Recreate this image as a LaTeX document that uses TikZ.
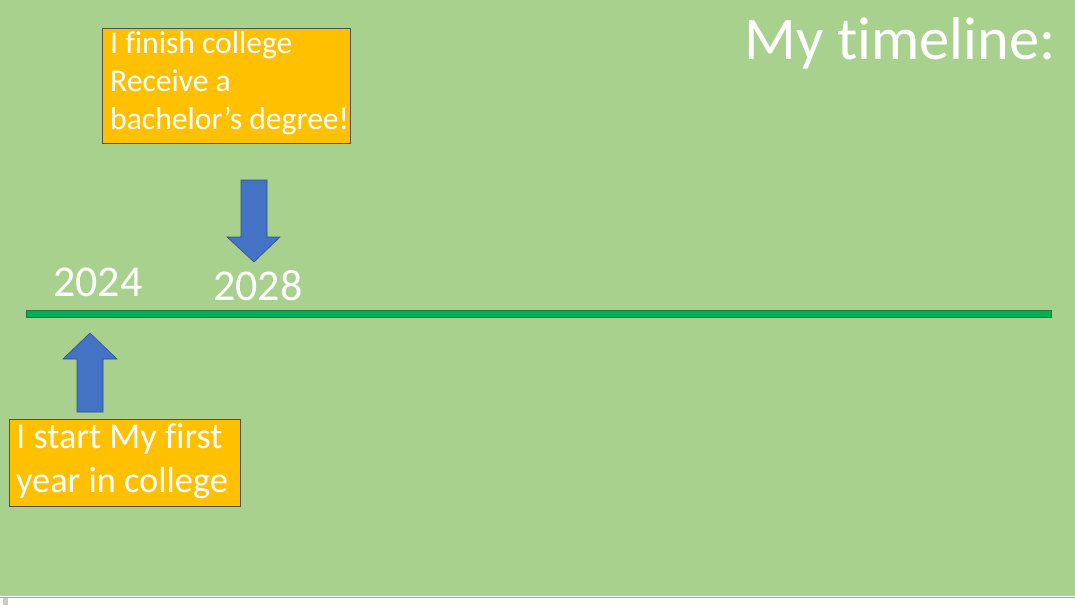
\documentclass[tikz,border=0pt]{standalone}
\usepackage{fontspec}
\setmainfont[Ligatures=NoCommon]{Carlito}
\definecolor{bg}{HTML}{A9D18E}
\definecolor{tl}{HTML}{00B050}
\definecolor{tlb}{HTML}{1F7A45}
\definecolor{ar}{HTML}{4472C4}
\definecolor{arb}{HTML}{2F528F}
\definecolor{bx}{HTML}{FFC000}
\definecolor{bxb}{HTML}{505050}
\tikzset{
  box/.style={draw=bxb, line width=0.8pt, fill=bx, inner sep=0pt, anchor=north west},
  boxtxt/.style={anchor=base west, inner sep=0pt, text=white},
  blockarrow/.style={fill=ar, draw=arb, line width=0.6pt},
}
\begin{document}
\begin{tikzpicture}[x=1pt,y=-1pt]
\useasboundingbox (0,0) rectangle (1075,605);
\fill[white] (0,0) rectangle (1075,605);
\fill[bg] (0,0) rectangle (1075,596);
\draw[gray!70, line width=1pt] (0,597) -- (1075,597);
\fill[gray!40] (3,598) rectangle (8,605);

% title
\node[anchor=base east, inner sep=0pt, text=white, font=\fontsize{60.5}{70}\selectfont] (title) at (1056,59) {My timeline:};

% timeline
\node[draw=tlb, fill=tl, line width=0.6pt, inner sep=0pt, anchor=north west, minimum width=1025pt, minimum height=7pt] (line) at (26,310) {};

% dates
\node[boxtxt, font=\fontsize{44}{50}\selectfont] (y24) at (53,296) {2024};
\node[boxtxt, font=\fontsize{44}{50}\selectfont] (y28) at (213,300) {2028};

% box 1
\node[box, minimum width=231pt, minimum height=87pt] (b1) at (9,419) {};
\node[boxtxt, font=\fontsize{36.3}{43}\selectfont] (b1a) at (16,448) {I start My first};
\node[boxtxt, font=\fontsize{36.3}{43}\selectfont] (b1b) at (16,492) {year in college};

% box 2
\node[box, minimum width=248pt, minimum height=115pt] (b2) at (102,28) {};
\node[boxtxt, font=\fontsize{31.6}{37}\selectfont] (b2a) at (110,53) {I finish college};
\node[boxtxt, font=\fontsize{31.6}{37}\selectfont] (b2b) at (110,91) {Receive a};
\node[boxtxt, font=\fontsize{31.6}{37}\selectfont] (b2c) at (110,129) {bachelor’s degree!};

% up arrow
\draw[blockarrow] (77,412) -- (77,359) -- (63,359) -- (90,333) -- (117,359) -- (103,359) -- (103,412) -- cycle;
% down arrow
\draw[blockarrow] (241,180) -- (267,180) -- (267,237) -- (280,237) -- (254,262) -- (227,237) -- (241,237) -- cycle;
\end{tikzpicture}
\end{document}
